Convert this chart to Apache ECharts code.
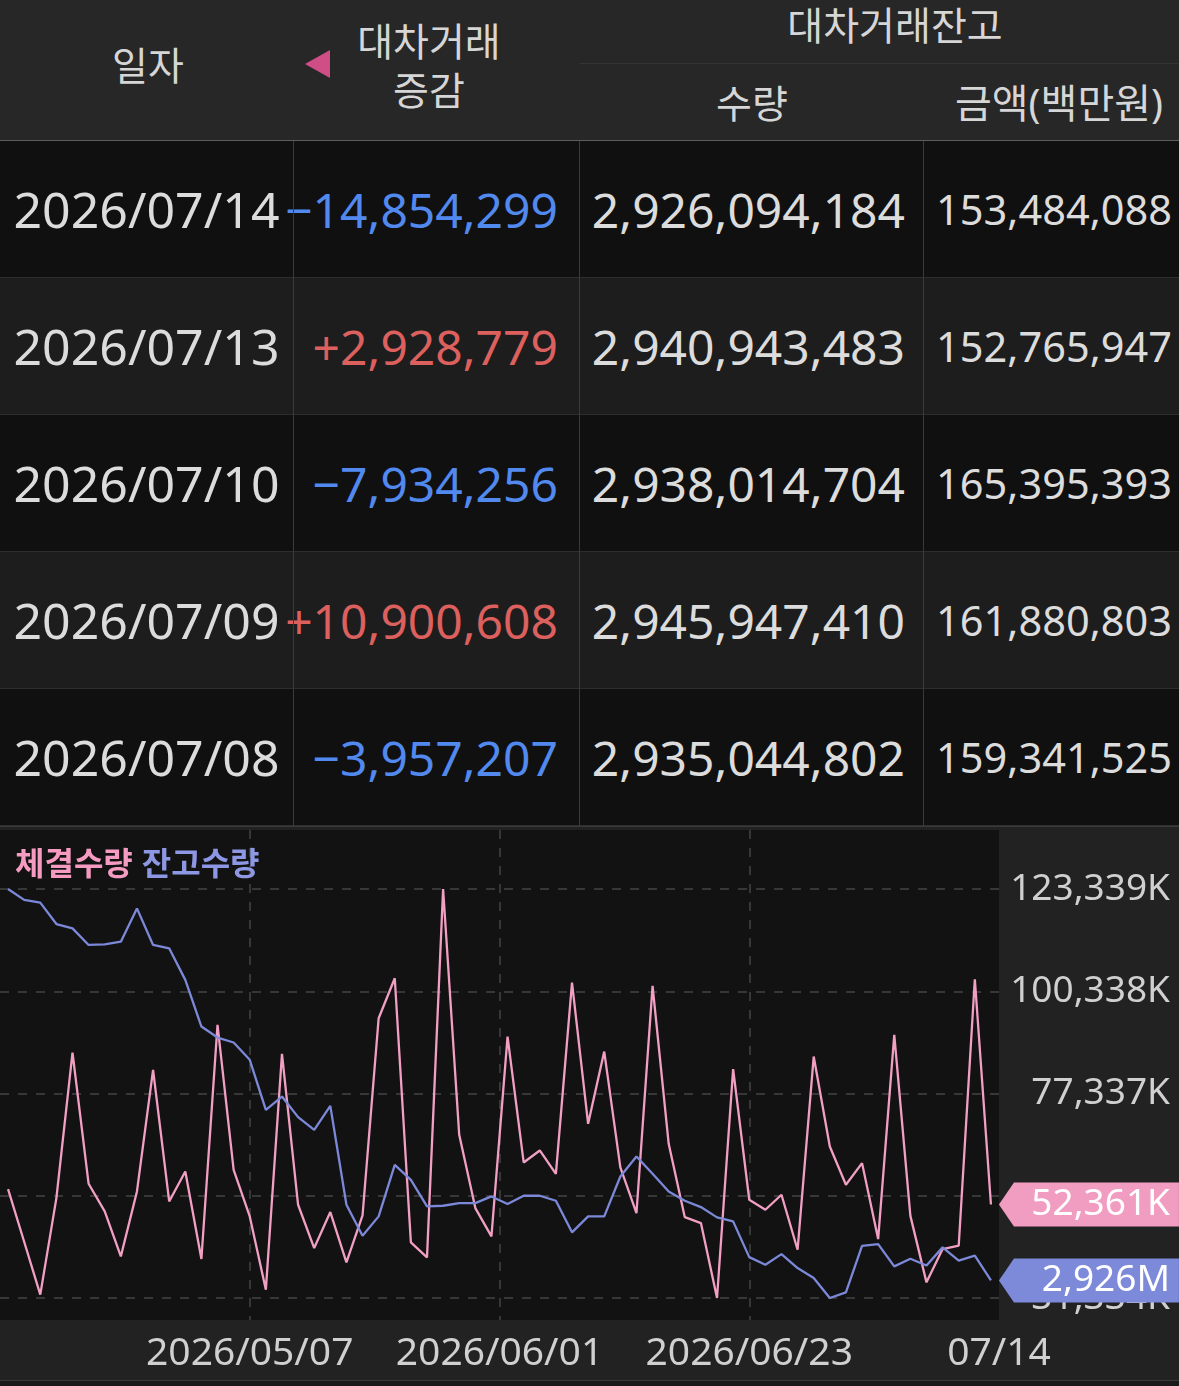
<!DOCTYPE html>
<html>
<head>
<meta charset="utf-8">
<title>대차거래</title>
<style>
  html, body { margin: 0; padding: 0; width: 1179px; height: 1386px; background: #222; overflow: hidden;
    font-family: "Noto Sans", "Noto Sans CJK KR", sans-serif; }
  #table { position: absolute; left: 0; top: 0; width: 1179px; height: 827px; }
  .hd { position: absolute; color: #d6d6d6; font-size: 39px; line-height: 50px; text-align: center; white-space: nowrap; }
  .cell { position: absolute; height: 137px; line-height: 137px; white-space: nowrap; color: #dcdcdc; font-size: 48px; }
  .bar { position: absolute; }
  #chart { position: absolute; left: 0; top: 827px; width: 1179px; height: 559px; }
</style>
</head>
<body>
<div id="table"></div>
<div id="chart"></div>
<div class="bar" style="left:0;top:1380px;width:1179px;height:1px;background:#3a3a3a"></div>
<div class="bar" style="left:0;top:1381px;width:1179px;height:5px;background:#1a1a1a"></div>
<script src="https://cdn.jsdelivr.net/npm/echarts@6/dist/echarts.min.js"></script>
<script>
// ---- table data ----
var tblDates = ['2026/07/14', '2026/07/13', '2026/07/10', '2026/07/09', '2026/07/08'];
var tblChange = [-14854299, 2928779, -7934256, 10900608, -3957207];
var tblQty = [2926094184, 2940943483, 2938014704, 2945947410, 2935044802];
var tblAmt = [153484088, 152765947, 165395393, 161880803, 159341525];

// ---- chart data ----
var dates = [
  '2026/04/14', '2026/04/15', '2026/04/16', '2026/04/17', '2026/04/20', '2026/04/21', '2026/04/22', '2026/04/23',
  '2026/04/24', '2026/04/27', '2026/04/28', '2026/04/29', '2026/04/30', '2026/05/04', '2026/05/06', '2026/05/07',
  '2026/05/08', '2026/05/11', '2026/05/12', '2026/05/13', '2026/05/14', '2026/05/15', '2026/05/18', '2026/05/19',
  '2026/05/20', '2026/05/21', '2026/05/22', '2026/05/26', '2026/05/27', '2026/05/28', '2026/05/29', '2026/06/01',
  '2026/06/02', '2026/06/04', '2026/06/05', '2026/06/08', '2026/06/09', '2026/06/10', '2026/06/11', '2026/06/12',
  '2026/06/15', '2026/06/16', '2026/06/17', '2026/06/18', '2026/06/19', '2026/06/22', '2026/06/23', '2026/06/24',
  '2026/06/25', '2026/06/26', '2026/06/29', '2026/06/30', '2026/07/01', '2026/07/02', '2026/07/03', '2026/07/06',
  '2026/07/07', '2026/07/08', '2026/07/09', '2026/07/10', '2026/07/13', '2026/07/14'
];
// 체결수량 (thousand shares)
var tradeVol = [
  55833, 43995, 32083, 53810, 86550, 57032, 50813, 40699, 55308, 82654,
  53061, 59804, 40100, 92768, 60178, 49689, 33207, 86250, 52312, 42572,
  50663, 39350, 49900, 94267, 103257, 43846, 40474, 123339, 68045, 51562,
  45194, 90146, 61826, 64524, 59279, 102283, 70517, 86775, 60703, 50439,
  101534, 66022, 49520, 48191, 31334, 82804, 53435, 51188, 54559, 42197,
  85651, 65423, 56807, 61677, 44595, 90521, 49810, 34855, 42347, 43096,
  103032, 52361
];
// 잔고수량 (million shares)
var balance = [
  3161.6, 3155.0, 3153.4, 3140.5, 3137.9, 3127.9, 3128.3, 3129.9, 3149.9, 3127.9,
  3125.9, 3106.9, 3078.8, 3072.2, 3069.2, 3058.8, 3028.7, 3036.7, 3024.3, 3016.7,
  3031.1, 2971.6, 2953.0, 2964.6, 2995.6, 2986.6, 2970.6, 2971.0, 2972.6, 2972.6,
  2976.6, 2972.0, 2977.0, 2977.0, 2974.0, 2955.0, 2964.6, 2964.6, 2988.6, 3000.6,
  2990.2, 2979.6, 2974.0, 2970.2, 2964.0, 2961.6, 2940.1, 2935.5, 2941.9, 2933.5,
  2927.5, 2915.5, 2918.9, 2946.9, 2947.9, 2934.5, 2939.1, 2935.04, 2945.95, 2938.01,
  2940.94, 2926.09
];
var volTicks = [31334, 54335, 77337, 100338, 123339];
var volLabels = [31334, 77337, 100338, 123339];   // 54,335K sits under the price tag
var xTickLabels = ['2026/05/07', '2026/06/01', '2026/06/23', '07/14'];

// ---- build table ----
var tbl = document.getElementById('table');
function add(html, style, cls) {
  var d = document.createElement('div');
  if (cls) d.className = cls;
  d.style.cssText = style;
  d.innerHTML = html;
  tbl.appendChild(d);
  return d;
}
function fmt(v) { return Math.abs(v).toLocaleString('en-US'); }

add('', 'position:absolute;left:0;top:0;width:1179px;height:140px;background:#272727');
add('', 'position:absolute;left:0;top:140px;width:1179px;height:1px;background:#5e5e5e');
add('', 'position:absolute;left:580px;top:63px;width:599px;height:1px;background:#343434');
add('일자', 'left:0;top:40px;width:296px', 'hd');
add('', 'position:absolute;left:305px;top:50px;width:0;height:0;border-top:14px solid transparent;' +
  'border-bottom:14px solid transparent;border-right:25px solid #cf4e86');
add('대차거래<br>증감', 'left:339px;top:16px;width:180px;line-height:49px', 'hd');
add('대차거래잔고', 'left:595px;top:0;width:600px', 'hd');
add('수량', 'left:652px;top:78px;width:200px', 'hd');
add('금액(백만원)', 'left:934px;top:78px;width:250px;font-size:40px', 'hd');

for (var i = 0; i < tblDates.length; i++) {
  var rowTop = 141 + 137 * i;
  add('', 'position:absolute;left:0;top:' + rowTop + 'px;width:1179px;height:136px;background:' +
    (i % 2 ? '#1d1d1d' : '#101010'));
  add('', 'position:absolute;left:0;top:' + (rowTop + 136) + 'px;width:1179px;height:1px;background:#2e2e2e');
  add(tblDates[i], 'left:0;top:' + rowTop + 'px;width:293px;text-align:center;font-size:50px', 'cell');
  var c = tblChange[i];
  add((c < 0 ? '\u2212' : '+') + fmt(c), 'right:621px;top:' + rowTop + 'px;text-align:right;color:' +
    (c < 0 ? '#5289ee' : '#dc605e'), 'cell');
  add(fmt(tblQty[i]), 'right:274px;top:' + rowTop + 'px;text-align:right', 'cell');
  add(fmt(tblAmt[i]), 'right:7px;top:' + rowTop + 'px;text-align:right;font-size:41.5px', 'cell');
}
[293, 579, 923].forEach(function (x) {
  add('', 'position:absolute;left:' + x + 'px;top:141px;width:1px;height:686px;background:#3a3a3a');
});
add('', 'position:absolute;left:0;top:826px;width:1179px;height:1px;background:#3a3a3a');

// ---- chart ----
var fontFam = '"Noto Sans", "Noto Sans CJK KR", sans-serif';
var n = dates.length;
var volStep = (volTicks[4] - volTicks[0]) / 4;
var balMin = Math.min.apply(null, balance), balMax = Math.max.apply(null, balance);
var balSpan = balMax - balMin;
var tagPath = 'path://M0,22L15,0L180,0L180,44L15,44Z';

var myChart = echarts.init(document.getElementById('chart'));
var option = {
  animation: false,
  backgroundColor: '#222',
  textStyle: { fontFamily: fontFam },
  grid: { left: 0, right: 180, top: 3, bottom: 66, show: true, backgroundColor: '#121212', borderWidth: 0 },
  legend: {
    left: 5, top: 18, icon: 'none', itemWidth: 0, itemHeight: 32, itemGap: 4, selectedMode: false,
    textStyle: { fontSize: 32, fontWeight: 'bold', fontFamily: fontFam },
    data: [
      { name: '체결수량', textStyle: { color: '#f59bc2' } },
      { name: '잔고수량', textStyle: { color: '#8d97e4' } }
    ]
  },
  xAxis: [{
    type: 'category', data: dates, boundaryGap: true, show: false
  }, {
    type: 'value', min: 0, max: 4, position: 'bottom',
    axisLine: { show: false },
    axisTick: { show: false, customValues: [1, 2, 3] },
    axisLabel: {
      customValues: [1, 2, 3, 4], margin: 14, color: '#d0d0d0', fontSize: 39, fontFamily: fontFam,
      formatter: function (v) { return xTickLabels[Math.round(v) - 1] || ''; }
    },
    splitLine: { show: true, lineStyle: { color: '#444', width: 1.5, type: [9, 9] } }
  }],
  yAxis: [{
    type: 'value', position: 'right',
    min: volTicks[0] - volStep * 0.215,
    max: volTicks[4] + volStep * 0.577,
    axisLine: { show: false },
    axisTick: { show: false, customValues: volTicks },
    axisLabel: {
      customValues: volLabels, align: 'right', margin: 171, color: '#d0d0d0', fontSize: 37, fontFamily: fontFam,
      formatter: function (v) { return Math.round(v).toLocaleString('en-US') + 'K'; }
    },
    splitLine: { show: true, lineStyle: { color: '#444', width: 1.5, type: [9, 9] } }
  }, {
    type: 'value', show: false,
    min: balMin - balSpan * 0.0538,
    max: balMax + balSpan * 0.1441,
    splitLine: { show: false }
  }],
  series: [{
    name: '체결수량', type: 'line', xAxisIndex: 0, yAxisIndex: 0, data: tradeVol,
    showSymbol: false, clip: false, color: '#f19fc3',
    lineStyle: { color: '#f19fc3', width: 2.3 },
    markPoint: {
      symbol: tagPath, symbolSize: [180, 44], symbolOffset: [98, 0],
      itemStyle: { color: '#f19dc1' },
      label: {
        show: true, position: 'insideRight', distance: 9, color: '#fff', fontSize: 37, fontFamily: fontFam,
        formatter: function (p) { return Math.round(p.value).toLocaleString('en-US') + 'K'; }
      },
      data: [{ coord: [dates[n - 1], tradeVol[n - 1]], value: tradeVol[n - 1] }]
    }
  }, {
    name: '잔고수량', type: 'line', xAxisIndex: 0, yAxisIndex: 1, data: balance,
    showSymbol: false, clip: false, color: '#7c88d8',
    lineStyle: { color: '#7c88d8', width: 2.3 },
    markPoint: {
      symbol: tagPath, symbolSize: [180, 44], symbolOffset: [98, 0],
      itemStyle: { color: '#7d89d9' },
      label: {
        show: true, position: 'insideRight', distance: 9, color: '#fff', fontSize: 37, fontFamily: fontFam,
        formatter: function (p) { return Math.round(p.value).toLocaleString('en-US') + 'M'; }
      },
      data: [{ coord: [dates[n - 1], balance[n - 1]], value: balance[n - 1] }]
    }
  }]
};
myChart.setOption(option);
</script>
</body>
</html>
